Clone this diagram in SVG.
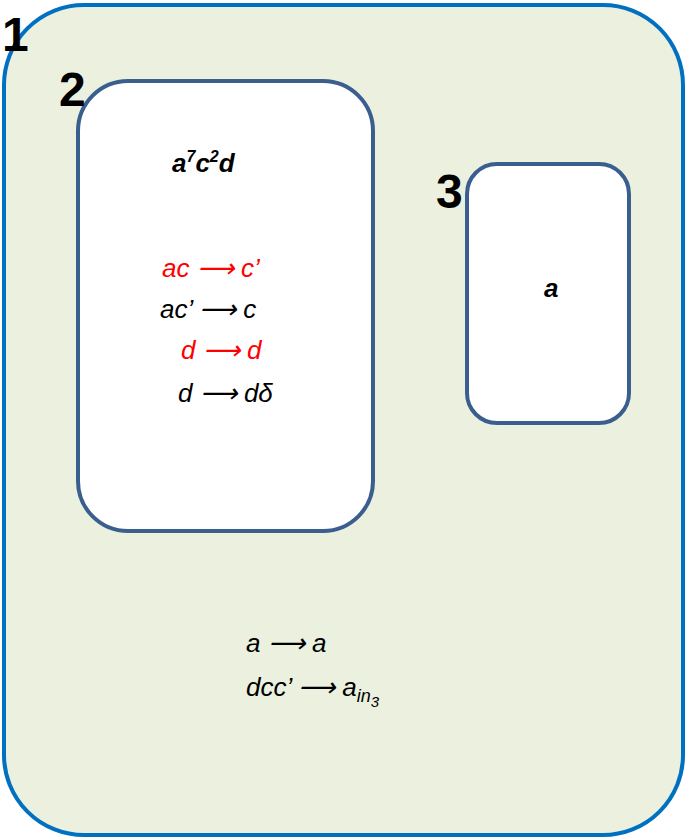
<svg xmlns="http://www.w3.org/2000/svg" width="686" height="839" viewBox="0 0 686 839">
<style>
.box{fill:#fff;stroke:#3A5F8F;stroke-width:4}
.num{font-family:"Liberation Sans",Arial,sans-serif;font-weight:bold;font-size:48px;fill:#000}
.t{font-family:"Liberation Sans",Arial,sans-serif;font-style:italic;font-size:26px;fill:#000}
.r{fill:#FF0000}
.b{font-weight:bold}
</style>
<g id="region1">
<rect x="4" y="5" width="679" height="830" rx="80" ry="80" fill="#EBF0DF" stroke="#0070C0" stroke-width="4"/>
<text class="num" x="2" y="51">1</text>
<text class="t" x="246" y="652">a ⟶ a</text>
<text class="t" x="246" y="696">dcc’ ⟶ a<tspan font-size="18" dy="6">in</tspan><tspan font-size="15" dy="5">3</tspan></text>
</g>
<g id="region2">
<rect class="box" x="78" y="81" width="295" height="450" rx="50" ry="50"/>
<text class="num" x="59" y="106">2</text>
<text class="t b" x="172" y="172" font-size="28">a<tspan font-size="16" dy="-10">7</tspan><tspan dy="10">c</tspan><tspan font-size="16" dy="-10">2</tspan><tspan dy="10">d</tspan></text>
<text class="t r" x="162" y="277">ac  ⟶ c’</text>
<text class="t" x="160" y="318">ac’ ⟶ c</text>
<text class="t r" x="181" y="359">d ⟶ d</text>
<text class="t" x="178" y="402">d ⟶ dδ</text>
</g>
<g id="region3">
<rect class="box" x="467" y="164" width="162" height="259" rx="30" ry="30"/>
<text class="num" x="436" y="208">3</text>
<text class="t b" x="544" y="297" font-size="27">a</text>
</g>
<g id="connectors"/>
</svg>
